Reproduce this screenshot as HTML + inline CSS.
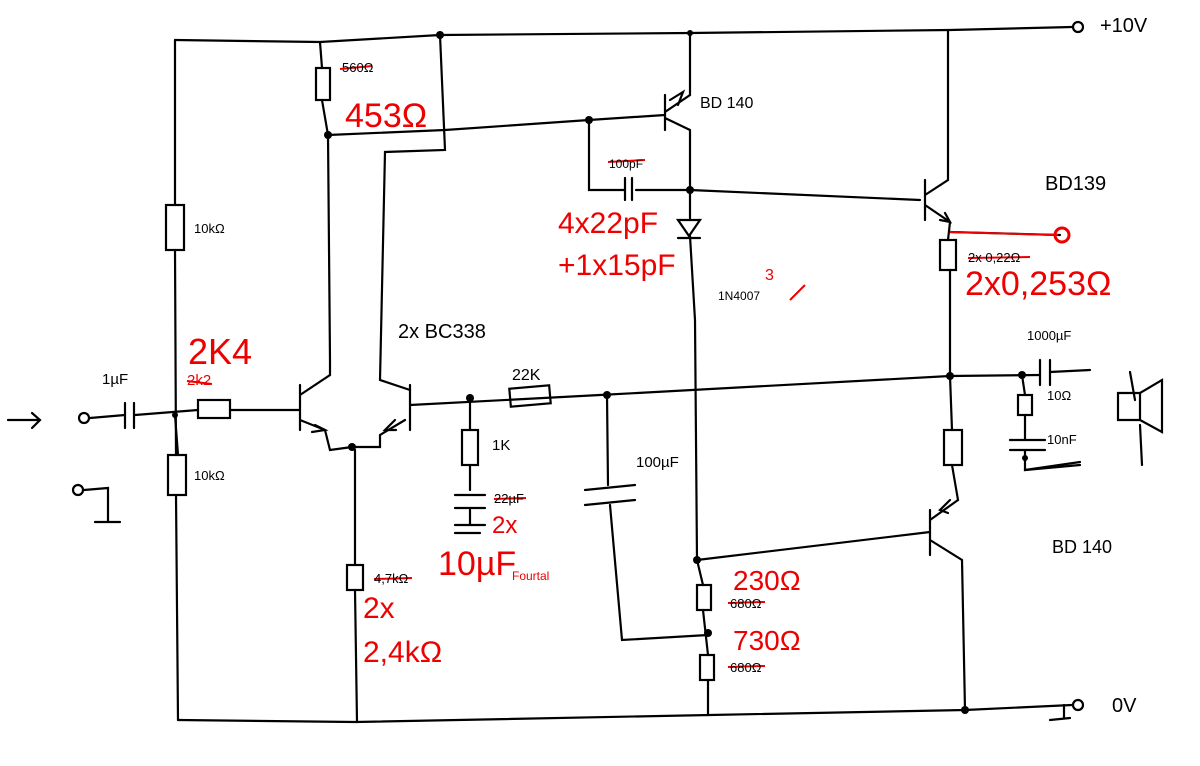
<!DOCTYPE html>
<html><head><meta charset="utf-8"><style>
html,body{margin:0;padding:0;background:#fff;width:1200px;height:766px;overflow:hidden}
svg{display:block}
text{font-family:"Liberation Sans",sans-serif}
</style></head><body>
<svg width="1200" height="766" viewBox="0 0 1200 766" xmlns="http://www.w3.org/2000/svg">
<g stroke="#000" stroke-width="2.2" fill="none" stroke-linecap="round">
<path d="M175 40 L320 42 L440 35 L690 33 L950 30 L1072 27"/>
<circle cx="1078" cy="27" r="5"/>
<path d="M175 40 L175 205 M175 250 L176 455 M176 495 L178 720"/>
<rect x="166" y="205" width="18" height="45"/>
<path d="M178 720 L355 722 L710 715 L965 710 L1072 705"/>
<circle cx="1078" cy="705" r="5"/>
<path d="M1064 705 L1064 718 M1050 720 L1070 718"/>
<path d="M320 42 L322 68 M322 100 L328 135 L330 360"/>
<rect x="316" y="68" width="14" height="32"/>
<path d="M328 135 L445 130 L589 120 L665 115"/>
<path d="M440 35 L445 150 L385 152 L380 380 L410 390"/>
<path d="M300 385 L300 430 M240 410 L300 410 M300 395 L330 375 L330 360 M300 420 L325 430 L330 450 L352 447 L380 447 L380 435 L405 420 M410 385 L410 430 M410 405 L600 395"/>
<path d="M315 425 L325 430 L312 432" />
<path d="M395 420 L385 430 L396 430"/>
<path d="M355 450 L355 565 M355 590 L357 722"/>
<rect x="347" y="565" width="16" height="25"/>
<path d="M90 418 L125 415 M135 415 L198 410 M230 410 L240 410 M125 403 L125 428 M134 403 L134 428"/>
<circle cx="84" cy="418" r="5"/>
<rect x="198" y="400" width="32" height="18"/>
<path d="M175 415 L178 455"/>
<rect x="168" y="455" width="18" height="40"/>
<path d="M8 420 L40 420 M32 413 L40 420 L32 428"/>
<circle cx="78" cy="490" r="5"/>
<path d="M84 490 L108 488 L108 522 M95 522 L120 522"/>
<path d="M470 398 L470 430 M470 465 L470 490 M455 495 L485 495 M455 508 L485 508 M470 510 L470 525 M455 525 L485 525 M455 533 L480 533"/>
<rect x="462" y="430" width="16" height="35"/>
<rect x="510" y="387" width="40" height="18" transform="rotate(-5 530 396)"/>
<path d="M607 395 L608 485 M585 490 L635 485 M585 505 L635 500 M610 505 L622 640 L708 635"/>
<path d="M665 95 L665 130 M665 112 L690 95 L690 33 M665 118 L690 130 L690 190 M670 100 L683 92 L678 105"/>
<path d="M589 120 L589 190 L625 190 M636 190 L690 190 M625 178 L625 200 M632 178 L632 200"/>
<path d="M690 190 L920 200 M690 190 L690 218 M678 220 L700 220 L689 236 Z M678 238 L700 238 M690 236 L695 320 L697 560"/>
<path d="M925 180 L925 220 M925 195 L948 180 L948 30 M925 205 L950 222 L948 240 M940 220 L950 222 L945 213"/>
<path d="M950 232 L1060 235"/>
<rect x="940" y="240" width="16" height="30"/>
<path d="M950 270 L950 376 L952 430 M952 465 L958 500"/>
<rect x="944" y="430" width="18" height="35"/>
<path d="M600 395 L950 376 L1040 375"/>
<path d="M930 510 L930 555 M930 520 L958 500 M930 540 L962 560 L965 710 M950 500 L940 510 L948 513 M697 560 L930 532"/>
<path d="M697 560 L703 585 M703 610 L708 655 M708 680 L708 715"/>
<rect x="697" y="585" width="14" height="25"/>
<rect x="700" y="655" width="14" height="25"/>
<path d="M1022 375 L1025 395 M1025 415 L1025 440 M1010 440 L1045 440 M1010 450 L1045 450 M1025 450 L1025 470 L1080 465 M1040 360 L1040 385 M1050 360 L1050 385 M1050 372 L1090 370"/>
<rect x="1018" y="395" width="14" height="20"/>
<path d="M1025 470 L1080 462 M1130 372 L1135 400 M1140 425 L1142 465"/>
<path d="M1118 393 L1140 393 L1140 420 L1118 420 Z M1140 393 L1162 380 L1162 432 L1140 420"/>
</g>
<g fill="#000">
<circle cx="440" cy="35" r="4"/><circle cx="690" cy="33" r="3"/><circle cx="328" cy="135" r="4"/>
<circle cx="589" cy="120" r="4"/><circle cx="690" cy="190" r="4"/><circle cx="352" cy="447" r="4"/>
<circle cx="470" cy="398" r="4"/><circle cx="607" cy="395" r="4"/><circle cx="950" cy="376" r="4"/>
<circle cx="1022" cy="375" r="4"/><circle cx="1025" cy="458" r="3"/><circle cx="697" cy="560" r="4"/>
<circle cx="708" cy="633" r="4"/><circle cx="965" cy="710" r="4"/><circle cx="175" cy="415" r="3"/>
</g>
<circle cx="1062" cy="235" r="7" fill="none" stroke="#e00" stroke-width="3"/>
<path d="M950 232 L1058 235" stroke="#e00" stroke-width="2"/>
<g stroke="#e00" stroke-width="2" fill="none">
<path d="M340 69 L372 66 M608 162 L645 160 M374 579 L412 578 M494 499 L526 498 M968 258 L1030 257 M728 603 L765 602 M728 667 L765 666 M187 381 L212 384 M790 300 L805 285"/>
</g>
<g font-size="13" fill="#000">
<text x="194" y="233">10kΩ</text><text x="194" y="480">10kΩ</text>
<text x="342" y="72">560Ω</text>
<text x="609" y="168" font-size="12">100pF</text>
<text x="374" y="583">4,7kΩ</text><text x="494" y="503">22µF</text>
<text x="968" y="262">2x 0,22Ω</text><text x="1047" y="400">10Ω</text><text x="1047" y="444">10nF</text>
<text x="1027" y="340">1000µF</text><text x="730" y="608">680Ω</text><text x="730" y="672">680Ω</text>
<text x="718" y="300" font-size="12">1N4007</text>
</g>
<g font-size="20" fill="#000">
<text x="1100" y="32">+10V</text><text x="1112" y="712">0V</text>
<text x="700" y="108" font-size="16">BD 140</text><text x="1045" y="190">BD139</text>
<text x="1052" y="553" font-size="18">BD 140</text><text x="398" y="338">2x BC338</text>
<text x="512" y="380" font-size="16">22K</text><text x="492" y="450" font-size="15">1K</text>
<text x="636" y="467" font-size="15">100µF</text><text x="102" y="384" font-size="15">1µF</text>
</g>
<g fill="#e00" font-family="Liberation Sans">
<text x="345" y="127" font-size="34">453Ω</text>
<text x="558" y="233" font-size="30">4x22pF</text>
<text x="558" y="275" font-size="30">+1x15pF</text>
<text x="188" y="364" font-size="36">2K4</text>
<text x="187" y="385" font-size="15">2k2</text>
<text x="492" y="533" font-size="24">2x</text>
<text x="438" y="575" font-size="34">10µF</text>
<text x="512" y="580" font-size="12">Fourtal</text>
<text x="363" y="618" font-size="30">2x</text>
<text x="363" y="662" font-size="30">2,4kΩ</text>
<text x="733" y="590" font-size="28">230Ω</text>
<text x="733" y="650" font-size="28">730Ω</text>
<text x="965" y="295" font-size="34">2x0,253Ω</text>
<text x="765" y="280" font-size="16">3</text>
</g>
</svg>
</body></html>
